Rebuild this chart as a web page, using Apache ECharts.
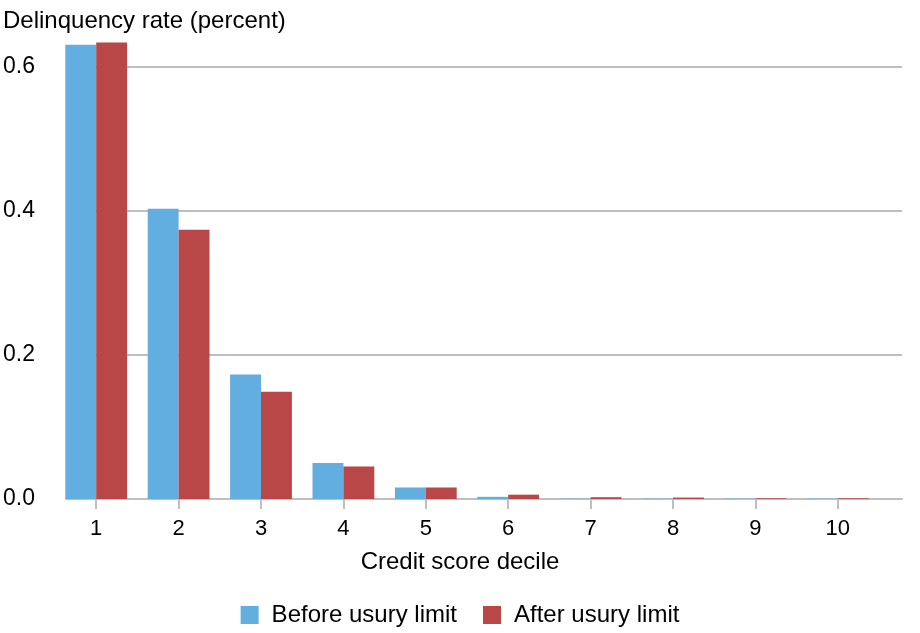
<!DOCTYPE html>
<html>
<head>
<meta charset="utf-8">
<script src="https://cdn.jsdelivr.net/npm/echarts@6/dist/echarts.min.js"></script>
<style>
	html, body { margin: 0; padding: 0; background: #ffffff; }
	#chart { width: 920px; height: 633px; }
</style>
</head>
<body>
<div id="chart"></div>
<script>
	const deciles = ['1', '2', '3', '4', '5', '6', '7', '8', '9', '10']
	const beforeLimit = [0.631, 0.403, 0.173, 0.050, 0.016, 0.003, 0.0005, 0.0005, 0.0005, 0.0005]
	const afterLimit = [0.634, 0.374, 0.149, 0.045, 0.016, 0.006, 0.0025, 0.002, 0.001, 0.001]
	const yTicks = { min: 0, max: 0.6, interval: 0.2 }

	const font = 'Liberation Sans, Arial, sans-serif'
	const gray = '#bfbfbf'

	let myChart = echarts.init(document.getElementById('chart'))

	let option = {
		animation: false,
		color: ['#62aee0', '#b94747'],
		textStyle: { fontFamily: font },
		title: [
			{
				text: 'Delinquency rate (percent)',
				left: 3,
				top: 9,
				padding: 0,
				textStyle: { fontSize: 24, fontWeight: 'normal', color: '#000', fontFamily: font }
			},
			{
				text: 'Credit score decile',
				left: 'center',
				top: 550,
				padding: 0,
				textStyle: { fontSize: 24, fontWeight: 'normal', color: '#000', fontFamily: font }
			}
		],
		legend: {
			left: 'center',
			top: 603,
			padding: 0,
			itemWidth: 18,
			itemHeight: 18,
			itemGap: 26,
			icon: 'rect',
			textStyle: { fontSize: 24, color: '#000', fontFamily: font, padding: [0, 0, 0, 8] },
			data: ['Before usury limit', 'After usury limit']
		},
		// grid 0 carries the gridlines and axis line, grid 1 carries the bars
		grid: [
			{ left: 66, right: 18, top: 67, bottom: 134 },
			{ left: 55, right: 41, top: 67, bottom: 134 }
		],
		xAxis: [
			{
				gridIndex: 0,
				type: 'category',
				data: deciles,
				axisLine: { show: true, lineStyle: { color: gray, width: 2 } },
				axisTick: { show: false },
				axisLabel: { show: false },
				splitLine: { show: false }
			},
			{
				gridIndex: 1,
				type: 'category',
				data: deciles,
				axisLine: { show: false },
				axisTick: { show: true, alignWithLabel: true, length: 10, lineStyle: { color: gray, width: 2 } },
				axisLabel: { fontSize: 22, color: '#000', margin: 19, fontFamily: font },
				splitLine: { show: false }
			}
		],
		yAxis: [
			{
				gridIndex: 0,
				type: 'value',
				min: yTicks.min,
				max: yTicks.max,
				interval: yTicks.interval,
				axisLine: { show: false },
				axisTick: { show: false },
				axisLabel: {
					fontSize: 23,
					color: '#000',
					margin: 31,
					fontFamily: font,
					formatter: v => v.toFixed(1)
				},
				splitLine: { show: true, lineStyle: { color: gray, width: 2 } }
			},
			{
				gridIndex: 1,
				type: 'value',
				min: yTicks.min,
				max: yTicks.max,
				interval: yTicks.interval,
				show: false
			}
		],
		series: [
			{
				name: 'Before usury limit',
				type: 'bar',
				xAxisIndex: 1,
				yAxisIndex: 1,
				data: beforeLimit,
				barGap: '0%',
				barCategoryGap: '25%',
				clip: false
			},
			{
				name: 'After usury limit',
				type: 'bar',
				xAxisIndex: 1,
				yAxisIndex: 1,
				data: afterLimit,
				barGap: '0%',
				barCategoryGap: '25%',
				clip: false
			}
		]
	}

	myChart.setOption(option)
</script>
</body>
</html>
